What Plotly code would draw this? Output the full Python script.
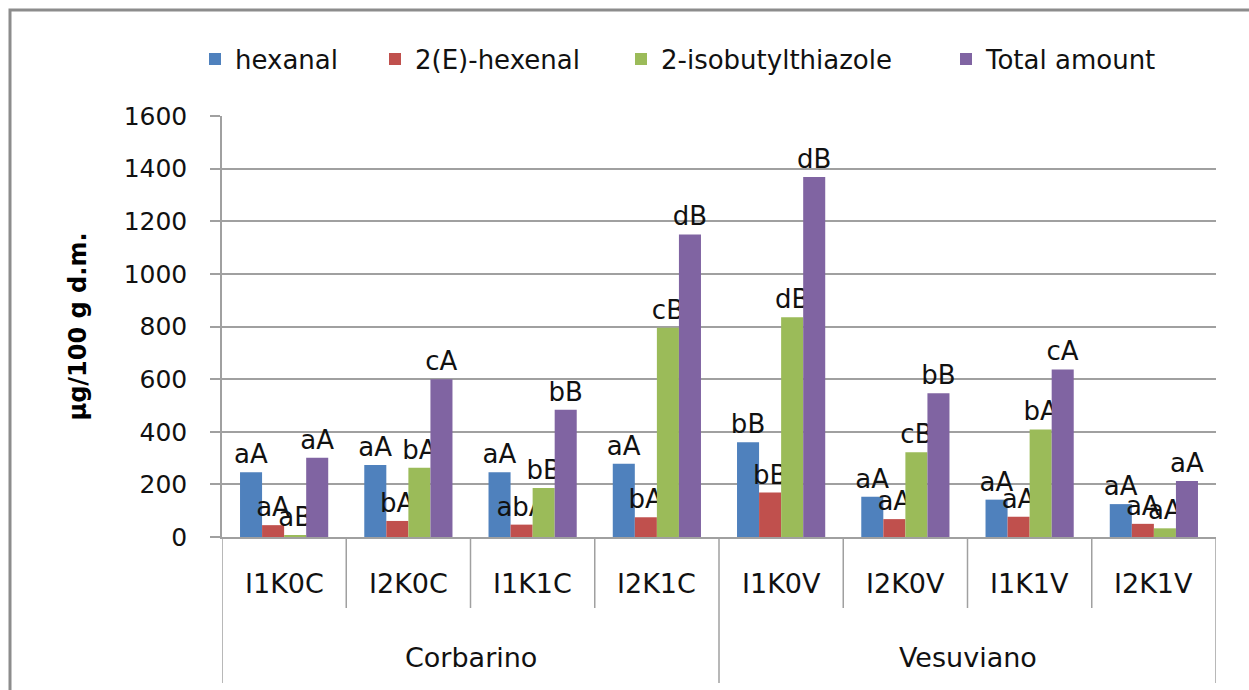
import plotly.graph_objects as go

categories = ["I1K0C", "I2K0C", "I1K1C", "I2K1C", "I1K0V", "I2K0V", "I1K1V", "I2K1V"]
groups = ["Corbarino", "Vesuviano"]
series_names = ["hexanal", "2(E)-hexenal", "2-isobutylthiazole", "Total amount"]

hexanal = [246, 274, 246, 278, 360, 153, 142, 125]
hexenal = [45, 61, 47, 75, 169, 68, 77, 50]
thiazole = [7, 263, 186, 795, 835, 322, 409, 33]
total = [301, 600, 484, 1150, 1368, 546, 637, 213]

lab_hexanal = ["aA", "aA", "aA", "aA", "bB", "aA", "aA", "aA"]
lab_hexenal = ["aA", "bA", "abA", "bA", "bB", "aA", "aA", "aA"]
lab_thiazole = ["aB", "bA", "bB", "cB", "dB", "cB", "bA", "aA"]
lab_total = ["aA", "cA", "bB", "dB", "dB", "bB", "cA", "aA"]

colors = ["#4F81BD", "#C0504D", "#9BBB59", "#8064A2"]
FONT = "DejaVu Sans"

# plot area in pixels
L, R, T, B = 222, 1216, 116, 537
W, H = 1249, 690
pw, ph = R - L, B - T


def px_x(p):
    return (p - L) / pw


def px_y(p):
    return (B - p) / ph


fig = go.Figure()
values = [hexanal, hexenal, thiazole, total]
labels = [lab_hexanal, lab_hexenal, lab_thiazole, lab_total]
legend_ids = ["legend", "legend2", "legend3", "legend4"]
for name, vals, labs, col, lg in zip(series_names, values, labels, colors, legend_ids):
    fig.add_trace(go.Bar(
        x=categories, y=vals, name=name, marker=dict(color=col, line=dict(width=0)),
        text=labs, textposition="outside", constraintext="none", cliponaxis=False,
        textfont=dict(family=FONT, size=26, color="#111111"),
        legend=lg, showlegend=True,
    ))

marker_left = [210, 390, 636, 961]
legend_common = dict(
    orientation="h", yanchor="middle", y=px_y(59), xanchor="left",
    font=dict(family=FONT, size=26, color="#111111"), bgcolor="rgba(0,0,0,0)",
    borderwidth=0,
)
layout_legends = {}
for lg, m in zip(legend_ids, marker_left):
    layout_legends[lg] = dict(legend_common, x=px_x(m - 15))

shapes = []
# outer frame
shapes.append(dict(type="rect", xref="paper", yref="paper",
                   x0=px_x(10), x1=px_x(1262), y0=px_y(10), y1=px_y(705),
                   line=dict(color="#8C8C8C", width=3), layer="below"))
# category dividers
line_col = "#A0A0A0"
n = len(categories)
for i in range(n + 1):
    xpos = i - 0.5
    long = (i % 4 == 0)
    shapes.append(dict(type="line", xref="x", yref="paper", x0=xpos, x1=xpos,
                       y0=0, y1=px_y(683 if long else 608),
                       line=dict(color=line_col, width=1.5)))

annotations = []
for i, c in enumerate(categories):
    annotations.append(dict(x=i, xref="x", y=px_y(583), yref="paper", text=c,
                            showarrow=False, xanchor="center", yanchor="middle",
                            font=dict(family=FONT, size=27, color="#111111")))
for gi, g in enumerate(groups):
    annotations.append(dict(x=gi * 4 + 1.5, xref="x", y=px_y(657), yref="paper", text=g,
                            showarrow=False, xanchor="center", yanchor="middle",
                            font=dict(family=FONT, size=27, color="#111111")))
annotations.append(dict(x=px_x(77), xref="paper", y=0.5, yref="paper",
                        text="<b>µg/100 g d.m.</b>", textangle=-90, showarrow=False,
                        xanchor="center", yanchor="middle",
                        font=dict(family=FONT, size=24, color="#000000")))

fig.update_layout(
    width=W, height=H,
    margin=dict(l=L, r=W - R, t=T, b=H - B, autoexpand=False),
    paper_bgcolor="white", plot_bgcolor="white",
    barmode="group", bargap=0.29, bargroupgap=0,
    showlegend=True,
    shapes=shapes, annotations=annotations,
    **layout_legends,
)
fig.update_xaxes(type="category", range=[-0.5, 7.5], showticklabels=False, ticks="",
                 showline=True, linecolor=line_col, linewidth=1.5, showgrid=False,
                 zeroline=False)
fig.update_yaxes(range=[0, 1600], dtick=200, tick0=0, showgrid=True, gridcolor=line_col,
                 gridwidth=1.5, ticks="outside", ticklen=10, tickcolor=line_col, tickwidth=1.5,
                 showline=True, linecolor=line_col, linewidth=1.5, zeroline=False,
                 ticklabelstandoff=18,
                 tickfont=dict(family=FONT, size=25, color="#111111"))

fig.write_html("out.html", config={"displayModeBar": False},
               post_script="document.body.style.margin='0';")
